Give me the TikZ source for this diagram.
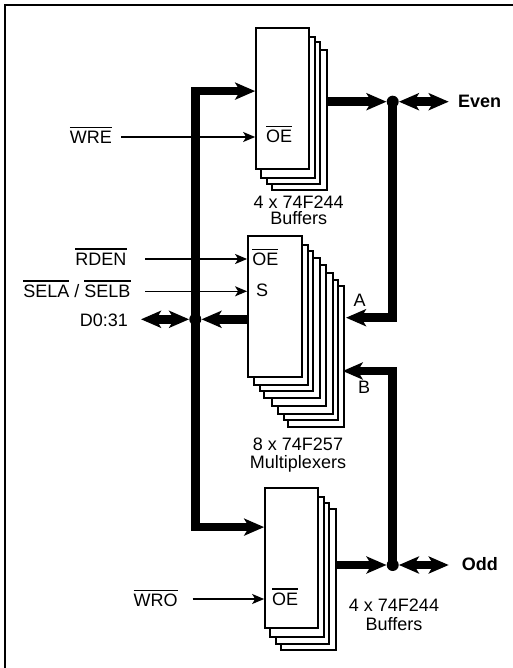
\documentclass[tikz,border=0pt]{standalone}
\usepackage{fontspec}
\setmainfont{Liberation Sans}
\usetikzlibrary{arrows.meta, positioning}
\newcommand{\ovl}[1]{\leavevmode\vbox{\hrule height 1.3pt \kern 2.3pt \hbox{\rule{0pt}{13pt}#1}}}

\begin{document}
\begin{tikzpicture}[x=1pt, y=-1pt, font=\fontsize{18}{16}\selectfont]
    \tikzstyle{chip} = [draw, fill=white, line width=1.8pt, inner sep=0pt]
    \tikzstyle{bus} = [line width=8.5pt, >={Stealth[length=20pt, width=17pt, inset=5pt]}]
    \tikzstyle{ctl} = [->, line width=1.5pt, >={Stealth[length=12pt, width=10pt, inset=3pt]}]
    \tikzstyle{lbl} = [inner sep=0pt, text centered, align=center]
    \tikzstyle{dot} = [circle, fill=black, inner sep=0pt, minimum size=12pt]
    \useasboundingbox (0,0) rectangle (513,668);
    \draw[line width=2pt] (5,668) -- (5,5.3) -- (513,5.3);

    % chips, back to front
    \foreach \l/\t/\r/\b in {271.7/49.7/327/190.3, 266.7/42.3/320.3/184, 261/36.7/315/178}
        \draw[chip] (\l,\t) rectangle (\r,\b);
    \node [chip, minimum width=53.3pt, minimum height=141pt] at (282.7,98.2) (even) {};
    \foreach \l/\t/\r/\b in {288/286/344/426.7, 284/280/338.3/420, 278/273.3/332.7/414, 272/265/326/405.7, 264/258/320/398, 260/250.7/313.3/391.3, 254/245/308/385.3}
        \draw[chip] (\l,\t) rectangle (\r,\b);
    \node [chip, minimum width=54pt, minimum height=141pt] at (275,306.2) (mux) {};
    \foreach \l/\t/\r/\b in {281/509/336/650.3, 275.7/502.7/329.3/643.7, 270/497/324/637}
        \draw[chip] (\l,\t) rectangle (\r,\b);
    \node [chip, minimum width=53.3pt, minimum height=140.6pt] at (291.7,558) (odd) {};

    % junctions
    \node [dot] at (392.7,101.7) (evendot) {};
    \node [dot] at (392.7,565) (odddot) {};
    \node [dot] at (195.3,319.3) (ddot) {};

    % labels
    \node [lbl, anchor=base] at (279,142.7) (evenoe) {\ovl{OE}};
    \node [lbl, anchor=base] at (265.3,265.7) (muxoe) {\ovl{OE}};
    \node [lbl, anchor=base] at (262,296) (muxs) {S};
    \node [lbl, anchor=base] at (285,605) (oddoe) {\ovl{OE}};
    \node [lbl, anchor=base east] at (112,143.5) (wre) {\ovl{WRE}};
    \node [lbl, anchor=base east] at (126.7,265) (rden) {\ovl{RDEN}};
    \node [lbl, anchor=base east] at (130.7,297) (sel) {\ovl{SELA} / \ovl{SELB}};
    \node [lbl, anchor=base east] at (128,326) (d) {D0:31};
    \node [lbl, anchor=base east] at (177.7,606.7) (wro) {\ovl{WRO}};
    \node [lbl, anchor=base] at (359.7,306) (a) {A};
    \node [lbl, anchor=base] at (364,393) (b) {B};
    \node [lbl, anchor=base west] at (458,108) (evenl) {\textbf{Even}};
    \node [lbl, anchor=base west] at (461.7,570.7) (oddl) {\textbf{Odd}};
    \node [lbl, below=26.6pt of even.south, xshift=16pt] (evenname) {4 x 74F244\\Buffers};
    \node [lbl, below=60pt of mux.south, xshift=23pt] (muxname) {8 x 74F257\\[2pt]Multiplexers};
    \node [lbl, anchor=base] at (394,630.7) (oddname) {4 x 74F244\\[3pt]Buffers};

    % free ends
    \coordinate (wrein) at (121,137);
    \coordinate (rdenin) at (145,259);
    \coordinate (selin) at (145,291.3);
    \coordinate (wroin) at (192.7,599);
    \coordinate (dout) at (141,319.3);
    \coordinate (evenout) at (448.7,101.7);
    \coordinate (oddout) at (448.7,565);

    % thin inputs
    \draw[ctl] (wrein) -- (wrein -| even.west);
    \draw[ctl] (rdenin) -- (rdenin -| mux.west);
    \draw[ctl] (selin) -- (selin -| mux.west);
    \draw[ctl] (wroin) -- (wroin -| odd.west);

    % buses
    \draw[bus, <->] ([yshift=-64.3pt]even.north west) -| (ddot.center) |- ([yshift=-40.3pt]odd.north west);
    \draw[bus, ->] (327,101.7) -- (evendot.west);
    \draw[bus, ->] (336,565) -- (odddot.west);
    \draw[bus, <->] (dout) -- (ddot.west);
    \draw[bus, ->] (mux.west |- ddot) -- (ddot.east);
    \draw[bus, <->] (evendot.east) -- (evenout);
    \draw[bus, <->] (odddot.east) -- (oddout);
    \draw[bus, ->] (evendot.center) |- (346,317.7);
    \draw[bus, ->] (odddot.center) |- (342.7,371);
\end{tikzpicture}
\end{document}
